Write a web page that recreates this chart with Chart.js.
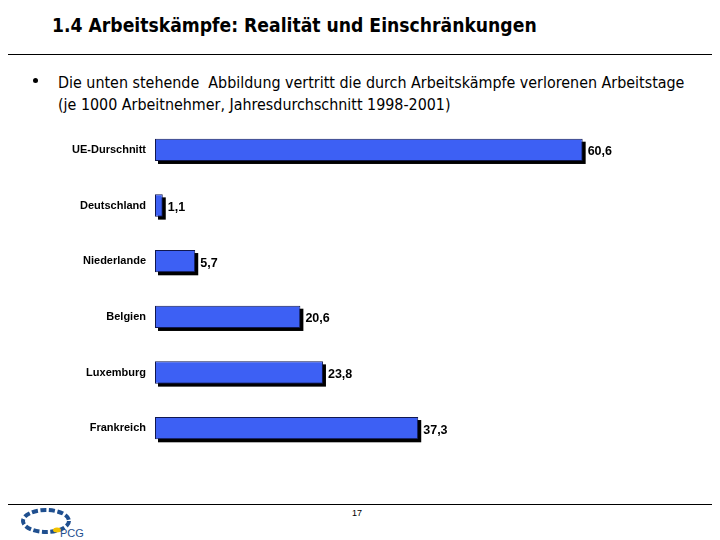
<!DOCTYPE html>
<html><head><meta charset="utf-8">
<script src="https://cdn.jsdelivr.net/npm/chart.js@4.4.0/dist/chart.umd.min.js"></script>
<style>
html,body{margin:0;padding:0;background:#fff;}
#wrap{position:relative;width:720px;height:540px;overflow:hidden;font-family:"DejaVu Sans Condensed","DejaVu Sans",sans-serif;}
.t{position:absolute;white-space:nowrap;color:#000;}
#title{left:52px;top:14px;font-weight:bold;font-size:19px;}
.hr{position:absolute;height:1px;background:#000;}
#bul{position:absolute;left:33px;top:78px;width:5px;height:5px;border-radius:50%;background:#000;}
#l1{left:58px;top:73px;font-size:14px;}
#l2{left:58px;top:95px;font-size:14px;}
#pg{left:352px;top:508px;font-size:9px;font-family:Arial,"Liberation Sans",sans-serif;}
canvas{position:absolute;left:0;top:0;}
</style></head>
<body><div id="wrap">
<div class="t" id="title" data-w="485">1.4 Arbeitskämpfe: Realität und Einschränkungen</div>
<div class="hr" style="left:8px;top:54px;width:704px;"></div>
<div id="bul"></div>
<div class="t" id="l1" data-w="627">Die unten stehende&nbsp; Abbildung vertritt die durch Arbeitskämpfe verlorenen Arbeitstage</div>
<div class="t" id="l2" data-w="393">(je 1000 Arbeitnehmer, Jahresdurchschnitt 1998-2001)</div>
<div class="hr" style="left:8px;top:504px;width:704px;"></div>
<div class="t" id="pg">17</div>
<svg style="position:absolute;left:0;top:500px" width="120" height="40">
<ellipse cx="46" cy="21" rx="23" ry="11" fill="none" stroke="#1f4f8f" stroke-width="4" stroke-dasharray="6 2.5"/>
<ellipse cx="57" cy="30" rx="4" ry="2.5" fill="#f2c200"/>
<text x="60" y="37" font-family="Arial,sans-serif" font-size="11" fill="#1f4f8f">PCG</text>
</svg>
<canvas id="c" width="720" height="540"></canvas>
</div>
<script>
const categories = ["UE-Durschnitt","Deutschland","Niederlande","Belgien","Luxemburg","Frankreich"];
const values = [60.6, 1.1, 5.7, 20.6, 23.8, 37.3];
const valueLabels = ["60,6","1,1","5,7","20,6","23,8","37,3"];

document.querySelectorAll('[data-w]').forEach(el=>{
  const target=+el.dataset.w;
  const w=el.getBoundingClientRect().width;
  const fs=parseFloat(getComputedStyle(el).fontSize);
  el.style.fontSize=(fs*target/w)+'px';
});

const shadowPlugin={
  id:'shadow',
  beforeDatasetsDraw(chart){
    const c=chart.ctx;const meta=chart.getDatasetMeta(0);
    c.save();c.fillStyle='#000';
    meta.data.forEach(bar=>{
      const p=bar.getProps(['x','y','base','height'],true);
      c.fillRect(p.base+3,p.y-p.height/2+3,p.x-p.base,p.height);
    });
    c.restore();
  },
  afterDatasetsDraw(chart){
    const c=chart.ctx;
    const meta=chart.getDatasetMeta(0);
    c.save();
    c.font='bold 12.5px Arial, "Liberation Sans", sans-serif';
    c.fillStyle='#000';c.textBaseline='middle';c.textAlign='left';
    meta.data.forEach((bar,i)=>{c.fillText(valueLabels[i],bar.x+5,bar.y+2);});
    c.restore();
  }
};

new Chart(document.getElementById('c'),{
  type:'bar',
  data:{labels:categories,datasets:[{data:values,backgroundColor:'#3d60f4',borderColor:'#101850',borderWidth:1,borderSkipped:false,barPercentage:0.4,categoryPercentage:1}]},
  options:{
    indexAxis:'y',responsive:false,animation:false,devicePixelRatio:1,
    layout:{padding:{left:0,right:71,top:122,bottom:84}},
    plugins:{legend:{display:false},tooltip:{enabled:false}},
    scales:{
      x:{display:false,min:0,max:70},
      y:{grid:{display:false,drawTicks:false},border:{display:false},
         ticks:{color:'#000',padding:9,font:{family:'Arial, "Liberation Sans", sans-serif',weight:'bold',size:11}},
         afterFit(s){s.width=155;}}
    }
  },
  plugins:[shadowPlugin]
});
</script>
</body></html>
